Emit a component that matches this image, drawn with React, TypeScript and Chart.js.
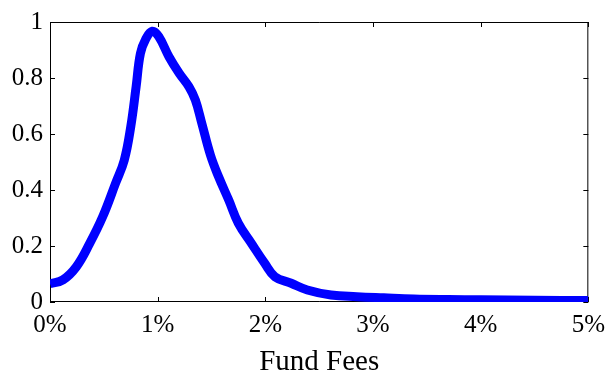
import React, { useEffect, useRef } from "react";
import { Chart, registerables } from "chart.js";

Chart.register(...registerables);

// Fund fee level (%) and estimated density
const feeLevels = [
  0, 0.12, 0.245, 0.37, 0.49, 0.61, 0.69, 0.75, 0.8, 0.84, 0.89, 0.95, 1.01,
  1.105, 1.2, 1.29, 1.35, 1.41, 1.49, 1.565, 1.66, 1.75, 1.87, 1.995, 2.09,
  2.24, 2.39, 2.61, 2.85, 3.1, 3.38, 3.7, 4.0, 4.5, 5.0,
];
const density = [
  0.065, 0.079, 0.126, 0.21, 0.305, 0.425, 0.507, 0.626, 0.769, 0.888, 0.94,
  0.967, 0.948, 0.876, 0.817, 0.769, 0.721, 0.638, 0.525, 0.448, 0.364, 0.281,
  0.21, 0.138, 0.09, 0.067, 0.043, 0.025, 0.019, 0.015, 0.011, 0.009, 0.008,
  0.006, 0.005,
];
const xTicks = [0, 1, 2, 3, 4, 5];
const yTicks = [0, 0.2, 0.4, 0.6, 0.8, 1];
const xTitle = "Fund Fees";

const SERIF = "'Liberation Serif', 'Times New Roman', serif";
Chart.defaults.font.family = SERIF;
Chart.defaults.color = "#000";

// Framed axes with short inward tick marks on all four sides
const boxAxes = {
  id: "boxAxes",
  beforeDatasetsDraw(chart: any) {
    const { ctx, chartArea } = chart;
    const { left, right, top, bottom } = chartArea;
    const xs = chart.scales.x;
    const ys = chart.scales.y;
    const len = 5;
    ctx.save();
    ctx.strokeStyle = "#000";
    ctx.lineWidth = 1;
    ctx.beginPath();
    ctx.rect(left + 0.5, top + 0.5, right - left - 1, bottom - top - 1);
    xTicks.forEach((t) => {
      const px = Math.round(xs.getPixelForValue(t)) + 0.5;
      ctx.moveTo(px, bottom);
      ctx.lineTo(px, bottom - len);
      ctx.moveTo(px, top);
      ctx.lineTo(px, top + len);
    });
    yTicks.forEach((t) => {
      const py = Math.round(ys.getPixelForValue(t)) + 0.5;
      ctx.moveTo(left, py);
      ctx.lineTo(left + len, py);
      ctx.moveTo(right, py);
      ctx.lineTo(right - len, py);
    });
    ctx.stroke();
    ctx.restore();
  },
};

export default function App() {
  const canvasRef = useRef<HTMLCanvasElement | null>(null);

  useEffect(() => {
    const canvas = canvasRef.current;
    if (!canvas) return;
    const chart = new Chart(canvas, {
      type: "line",
      data: {
        datasets: [
          {
            data: feeLevels.map((x, i) => ({ x, y: density[i] })),
            borderColor: "#0000ff",
            borderWidth: 9,
            pointRadius: 0,
            tension: 0.4,
            borderJoinStyle: "round",
            fill: false,
          },
        ],
      },
      options: {
        responsive: false,
        animation: false,
        devicePixelRatio: 1,
        layout: { padding: { top: 22, right: 20, left: 0, bottom: 0 } },
        plugins: {
          legend: { display: false },
          tooltip: { enabled: false },
        },
        scales: {
          x: {
            type: "linear",
            min: 0,
            max: 5,
            afterBuildTicks: (s: any) => {
              s.ticks = xTicks.map((v) => ({ value: v }));
            },
            afterFit: (s: any) => {
              s.height = 73;
            },
            grid: { display: false, drawTicks: false },
            border: { display: false },
            ticks: {
              padding: 8,
              color: "#000",
              maxRotation: 0,
              autoSkip: false,
              font: { family: SERIF, size: 25 },
              callback: (v: any) => `${v}%`,
            },
            title: {
              display: true,
              text: xTitle,
              color: "#000",
              font: { family: SERIF, size: 29, lineHeight: 1 },
              padding: { top: 0, bottom: -2 },
            },
          },
          y: {
            type: "linear",
            min: 0,
            max: 1,
            afterBuildTicks: (s: any) => {
              s.ticks = yTicks.map((v) => ({ value: v }));
            },
            afterFit: (s: any) => {
              s.width = 50;
            },
            grid: { display: false, drawTicks: false },
            border: { display: false },
            ticks: {
              padding: 7,
              color: "#000",
              autoSkip: false,
              font: { family: SERIF, size: 25 },
              callback: (v: any) => `${Math.round(v * 10) / 10}`,
            },
          },
        },
      },
      plugins: [boxAxes],
    });
    return () => chart.destroy();
  }, []);

  return (
    <div
      style={{
        position: "absolute",
        left: 0,
        top: 0,
        width: 613,
        height: 375,
        background: "#fff",
      }}
    >
      <canvas ref={canvasRef} width={613} height={375} />
    </div>
  );
}
